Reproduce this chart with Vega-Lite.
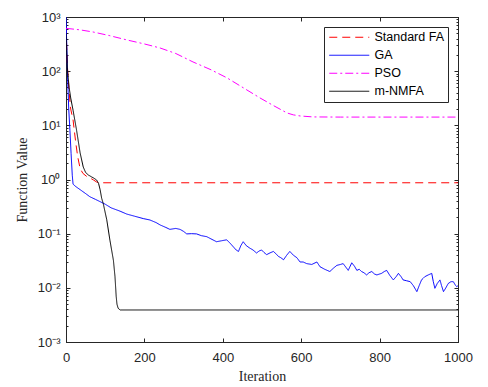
{
  "$schema": "https://vega.github.io/schema/vega-lite/v6.json",
  "width": 392,
  "height": 325,
  "autosize": "none",
  "padding": {"left": 66, "top": 17, "right": 30, "bottom": 45},
  "background": "white",
  "config": {
    "view": {"stroke": "#262626", "strokeWidth": 1},
    "axis": {
      "labelFont": "Liberation Sans", "labelFontSize": 13, "labelColor": "#262626",
      "titleFont": "Liberation Serif", "titleFontSize": 14, "titleFontWeight": "normal", "titleColor": "#262626",
      "domainColor": "#262626", "tickColor": "#262626", "tickWidth": 1, "grid": false
    },
    "legend": {
      "orient": "top-right", "offset": 10, "strokeColor": "#262626", "fillColor": "white",
      "padding": 4, "labelFont": "Liberation Sans", "labelFontSize": 12.5, "labelColor": "#000000",
      "symbolType": "M-1,0H7", "symbolSize": 100, "symbolStrokeWidth": 1, "labelOffset": 34, "rowPadding": 5
    }
  },
  "datasets": {
    "curves": [
      {"iter": 0, "value": 600, "algo": "Standard FA"},
      {"iter": 2, "value": 250, "algo": "Standard FA"},
      {"iter": 4, "value": 110, "algo": "Standard FA"},
      {"iter": 8, "value": 40, "algo": "Standard FA"},
      {"iter": 12, "value": 20, "algo": "Standard FA"},
      {"iter": 18, "value": 12.6, "algo": "Standard FA"},
      {"iter": 25, "value": 4.7, "algo": "Standard FA"},
      {"iter": 30, "value": 2.6, "algo": "Standard FA"},
      {"iter": 36, "value": 1.6, "algo": "Standard FA"},
      {"iter": 43, "value": 1.3, "algo": "Standard FA"},
      {"iter": 52, "value": 1.15, "algo": "Standard FA"},
      {"iter": 61, "value": 1.07, "algo": "Standard FA"},
      {"iter": 70, "value": 0.98, "algo": "Standard FA"},
      {"iter": 78, "value": 0.9, "algo": "Standard FA"},
      {"iter": 85, "value": 0.87, "algo": "Standard FA"},
      {"iter": 1000, "value": 0.87, "algo": "Standard FA"},

      {"iter": 0, "value": 1000, "algo": "GA"},
      {"iter": 2, "value": 300, "algo": "GA"},
      {"iter": 4, "value": 80, "algo": "GA"},
      {"iter": 7, "value": 20, "algo": "GA"},
      {"iter": 10, "value": 8, "algo": "GA"},
      {"iter": 13, "value": 3, "algo": "GA"},
      {"iter": 16, "value": 1.2, "algo": "GA"},
      {"iter": 18, "value": 0.82, "algo": "GA"},
      {"iter": 25, "value": 0.74, "algo": "GA"},
      {"iter": 36, "value": 0.65, "algo": "GA"},
      {"iter": 50, "value": 0.55, "algo": "GA"},
      {"iter": 61, "value": 0.48, "algo": "GA"},
      {"iter": 75, "value": 0.43, "algo": "GA"},
      {"iter": 87, "value": 0.39, "algo": "GA"},
      {"iter": 100, "value": 0.35, "algo": "GA"},
      {"iter": 115, "value": 0.3, "algo": "GA"},
      {"iter": 138, "value": 0.26, "algo": "GA"},
      {"iter": 155, "value": 0.23, "algo": "GA"},
      {"iter": 175, "value": 0.21, "algo": "GA"},
      {"iter": 197, "value": 0.19, "algo": "GA"},
      {"iter": 214, "value": 0.179, "algo": "GA"},
      {"iter": 230, "value": 0.16, "algo": "GA"},
      {"iter": 240, "value": 0.145, "algo": "GA"},
      {"iter": 255, "value": 0.13, "algo": "GA"},
      {"iter": 265, "value": 0.12, "algo": "GA"},
      {"iter": 280, "value": 0.125, "algo": "GA"},
      {"iter": 291, "value": 0.12, "algo": "GA"},
      {"iter": 300, "value": 0.11, "algo": "GA"},
      {"iter": 308, "value": 0.099, "algo": "GA"},
      {"iter": 320, "value": 0.1, "algo": "GA"},
      {"iter": 333, "value": 0.099, "algo": "GA"},
      {"iter": 345, "value": 0.092, "algo": "GA"},
      {"iter": 359, "value": 0.088, "algo": "GA"},
      {"iter": 370, "value": 0.08, "algo": "GA"},
      {"iter": 384, "value": 0.071, "algo": "GA"},
      {"iter": 397, "value": 0.074, "algo": "GA"},
      {"iter": 410, "value": 0.077, "algo": "GA"},
      {"iter": 420, "value": 0.065, "algo": "GA"},
      {"iter": 427, "value": 0.057, "algo": "GA"},
      {"iter": 434, "value": 0.05, "algo": "GA"},
      {"iter": 440, "value": 0.047, "algo": "GA"},
      {"iter": 446, "value": 0.06, "algo": "GA"},
      {"iter": 452, "value": 0.071, "algo": "GA"},
      {"iter": 460, "value": 0.06, "algo": "GA"},
      {"iter": 469, "value": 0.054, "algo": "GA"},
      {"iter": 477, "value": 0.05, "algo": "GA"},
      {"iter": 486, "value": 0.044, "algo": "GA"},
      {"iter": 493, "value": 0.048, "algo": "GA"},
      {"iter": 499, "value": 0.05, "algo": "GA"},
      {"iter": 505, "value": 0.045, "algo": "GA"},
      {"iter": 512, "value": 0.041, "algo": "GA"},
      {"iter": 520, "value": 0.044, "algo": "GA"},
      {"iter": 529, "value": 0.047, "algo": "GA"},
      {"iter": 535, "value": 0.043, "algo": "GA"},
      {"iter": 542, "value": 0.038, "algo": "GA"},
      {"iter": 548, "value": 0.036, "algo": "GA"},
      {"iter": 555, "value": 0.033, "algo": "GA"},
      {"iter": 563, "value": 0.04, "algo": "GA"},
      {"iter": 571, "value": 0.047, "algo": "GA"},
      {"iter": 580, "value": 0.04, "algo": "GA"},
      {"iter": 589, "value": 0.036, "algo": "GA"},
      {"iter": 597, "value": 0.03, "algo": "GA"},
      {"iter": 605, "value": 0.03, "algo": "GA"},
      {"iter": 614, "value": 0.028, "algo": "GA"},
      {"iter": 627, "value": 0.027, "algo": "GA"},
      {"iter": 640, "value": 0.03, "algo": "GA"},
      {"iter": 648, "value": 0.0245, "algo": "GA"},
      {"iter": 660, "value": 0.022, "algo": "GA"},
      {"iter": 673, "value": 0.02, "algo": "GA"},
      {"iter": 682, "value": 0.023, "algo": "GA"},
      {"iter": 691, "value": 0.026, "algo": "GA"},
      {"iter": 700, "value": 0.027, "algo": "GA"},
      {"iter": 707, "value": 0.028, "algo": "GA"},
      {"iter": 714, "value": 0.024, "algo": "GA"},
      {"iter": 720, "value": 0.021, "algo": "GA"},
      {"iter": 729, "value": 0.029, "algo": "GA"},
      {"iter": 736, "value": 0.025, "algo": "GA"},
      {"iter": 742, "value": 0.021, "algo": "GA"},
      {"iter": 748, "value": 0.022, "algo": "GA"},
      {"iter": 754, "value": 0.02, "algo": "GA"},
      {"iter": 760, "value": 0.019, "algo": "GA"},
      {"iter": 767, "value": 0.0173, "algo": "GA"},
      {"iter": 773, "value": 0.019, "algo": "GA"},
      {"iter": 780, "value": 0.02, "algo": "GA"},
      {"iter": 787, "value": 0.018, "algo": "GA"},
      {"iter": 793, "value": 0.0173, "algo": "GA"},
      {"iter": 800, "value": 0.018, "algo": "GA"},
      {"iter": 805, "value": 0.0185, "algo": "GA"},
      {"iter": 812, "value": 0.02, "algo": "GA"},
      {"iter": 818, "value": 0.021, "algo": "GA"},
      {"iter": 826, "value": 0.017, "algo": "GA"},
      {"iter": 835, "value": 0.014, "algo": "GA"},
      {"iter": 842, "value": 0.016, "algo": "GA"},
      {"iter": 848, "value": 0.0185, "algo": "GA"},
      {"iter": 855, "value": 0.016, "algo": "GA"},
      {"iter": 860, "value": 0.014, "algo": "GA"},
      {"iter": 869, "value": 0.0135, "algo": "GA"},
      {"iter": 878, "value": 0.013, "algo": "GA"},
      {"iter": 886, "value": 0.011, "algo": "GA"},
      {"iter": 895, "value": 0.0085, "algo": "GA"},
      {"iter": 901, "value": 0.011, "algo": "GA"},
      {"iter": 907, "value": 0.014, "algo": "GA"},
      {"iter": 915, "value": 0.016, "algo": "GA"},
      {"iter": 924, "value": 0.0173, "algo": "GA"},
      {"iter": 933, "value": 0.0185, "algo": "GA"},
      {"iter": 937, "value": 0.013, "algo": "GA"},
      {"iter": 941, "value": 0.0098, "algo": "GA"},
      {"iter": 947, "value": 0.012, "algo": "GA"},
      {"iter": 954, "value": 0.014, "algo": "GA"},
      {"iter": 958, "value": 0.011, "algo": "GA"},
      {"iter": 963, "value": 0.0085, "algo": "GA"},
      {"iter": 969, "value": 0.01, "algo": "GA"},
      {"iter": 975, "value": 0.012, "algo": "GA"},
      {"iter": 982, "value": 0.013, "algo": "GA"},
      {"iter": 988, "value": 0.013, "algo": "GA"},
      {"iter": 994, "value": 0.011, "algo": "GA"},
      {"iter": 997, "value": 0.0105, "algo": "GA"},
      {"iter": 1000, "value": 0.011, "algo": "GA"},

      {"iter": 0, "value": 618, "algo": "PSO"},
      {"iter": 35, "value": 580, "algo": "PSO"},
      {"iter": 69, "value": 529, "algo": "PSO"},
      {"iter": 110, "value": 455, "algo": "PSO"},
      {"iter": 156, "value": 376, "algo": "PSO"},
      {"iter": 200, "value": 318, "algo": "PSO"},
      {"iter": 240, "value": 268, "algo": "PSO"},
      {"iter": 280, "value": 212, "algo": "PSO"},
      {"iter": 324, "value": 148, "algo": "PSO"},
      {"iter": 370, "value": 106, "algo": "PSO"},
      {"iter": 411, "value": 75, "algo": "PSO"},
      {"iter": 455, "value": 48, "algo": "PSO"},
      {"iter": 495, "value": 32, "algo": "PSO"},
      {"iter": 530, "value": 23, "algo": "PSO"},
      {"iter": 564, "value": 16.9, "algo": "PSO"},
      {"iter": 580, "value": 15.6, "algo": "PSO"},
      {"iter": 597, "value": 14.9, "algo": "PSO"},
      {"iter": 630, "value": 14.3, "algo": "PSO"},
      {"iter": 700, "value": 14.2, "algo": "PSO"},
      {"iter": 1000, "value": 14.2, "algo": "PSO"},

      {"iter": 0, "value": 500, "algo": "m-NMFA"},
      {"iter": 2, "value": 220, "algo": "m-NMFA"},
      {"iter": 4, "value": 100, "algo": "m-NMFA"},
      {"iter": 8, "value": 50, "algo": "m-NMFA"},
      {"iter": 12, "value": 32, "algo": "m-NMFA"},
      {"iter": 18, "value": 19, "algo": "m-NMFA"},
      {"iter": 27, "value": 8.1, "algo": "m-NMFA"},
      {"iter": 36, "value": 3.1, "algo": "m-NMFA"},
      {"iter": 44, "value": 1.7, "algo": "m-NMFA"},
      {"iter": 50, "value": 1.35, "algo": "m-NMFA"},
      {"iter": 57, "value": 1.21, "algo": "m-NMFA"},
      {"iter": 65, "value": 1.12, "algo": "m-NMFA"},
      {"iter": 70, "value": 1.07, "algo": "m-NMFA"},
      {"iter": 78, "value": 0.98, "algo": "m-NMFA"},
      {"iter": 83, "value": 0.85, "algo": "m-NMFA"},
      {"iter": 87, "value": 0.65, "algo": "m-NMFA"},
      {"iter": 91, "value": 0.45, "algo": "m-NMFA"},
      {"iter": 95, "value": 0.36, "algo": "m-NMFA"},
      {"iter": 104, "value": 0.18, "algo": "m-NMFA"},
      {"iter": 112, "value": 0.076, "algo": "m-NMFA"},
      {"iter": 121, "value": 0.032, "algo": "m-NMFA"},
      {"iter": 125, "value": 0.016, "algo": "m-NMFA"},
      {"iter": 128, "value": 0.007, "algo": "m-NMFA"},
      {"iter": 130, "value": 0.005, "algo": "m-NMFA"},
      {"iter": 133, "value": 0.0042, "algo": "m-NMFA"},
      {"iter": 138, "value": 0.0039, "algo": "m-NMFA"},
      {"iter": 1000, "value": 0.0039, "algo": "m-NMFA"}
    ]
  },
  "data": {"name": "curves"},
  "resolve": {"axis": {"x": "independent", "y": "independent"}},
  "layer": [
    {
      "mark": {"type": "line", "strokeWidth": 1, "clip": true},
      "encoding": {
        "x": {
          "field": "iter", "type": "quantitative",
          "scale": {"domain": [0, 1000], "nice": false, "zero": false},
          "axis": {
            "orient": "bottom", "title": "Iteration", "values": [0, 200, 400, 600, 800, 1000], "format": "d",
            "tickSize": -4, "labelPadding": 13, "titlePadding": 5, "labelFlush": false, "labelOverlap": false
          }
        },
        "y": {
          "field": "value", "type": "quantitative",
          "scale": {"type": "log", "domain": [0.001, 1000], "nice": false},
          "axis": {
            "orient": "left", "title": "Function Value",
            "values": [0.001,0.002,0.003,0.004,0.005,0.006,0.007,0.008,0.009,0.01,0.02,0.03,0.04,0.05,0.06,0.07,0.08,0.09,0.1,0.2,0.3,0.4,0.5,0.6,0.7,0.8,0.9,1,2,3,4,5,6,7,8,9,10,20,30,40,50,60,70,80,90,100,200,300,400,500,600,700,800,900,1000],
            "labelExpr": "indexof([0.001,0.01,0.1,1,10,100,1000], datum.value) >= 0 ? ['10⁻³','10⁻²','10⁻¹','10⁰','10¹','10²','10³'][indexof([0.001,0.01,0.1,1,10,100,1000], datum.value)] : ''",
            "tickSize": {"condition": {"test": "indexof([0.001,0.01,0.1,1,10,100,1000], datum.value) >= 0", "value": -4}, "value": -2},
            "labelPadding": 10, "titlePadding": 8, "labelFlush": false, "labelOverlap": false
          }
        },
        "color": {
          "field": "algo", "type": "nominal", "title": null,
          "scale": {"domain": ["Standard FA", "GA", "PSO", "m-NMFA"], "range": ["#ff0000", "#0000ff", "#ff00ff", "#000000"]}
        },
        "strokeDash": {
          "field": "algo", "type": "nominal", "title": null,
          "scale": {"domain": ["Standard FA", "GA", "PSO", "m-NMFA"], "range": [[8, 5], [1, 0], [8, 3, 2, 3], [1, 0]]}
        }
      }
    },
    {
      "mark": {"type": "line", "opacity": 0},
      "encoding": {
        "x": {
          "field": "iter", "type": "quantitative",
          "axis": {"orient": "top", "title": null, "labels": false, "values": [0, 200, 400, 600, 800, 1000], "tickSize": -4}
        },
        "y": {
          "field": "value", "type": "quantitative",
          "axis": {
            "orient": "right", "title": null, "labels": false,
            "values": [0.001,0.002,0.003,0.004,0.005,0.006,0.007,0.008,0.009,0.01,0.02,0.03,0.04,0.05,0.06,0.07,0.08,0.09,0.1,0.2,0.3,0.4,0.5,0.6,0.7,0.8,0.9,1,2,3,4,5,6,7,8,9,10,20,30,40,50,60,70,80,90,100,200,300,400,500,600,700,800,900,1000],
            "tickSize": {"condition": {"test": "indexof([0.001,0.01,0.1,1,10,100,1000], datum.value) >= 0", "value": -4}, "value": -2}
          }
        },
        "detail": {"field": "algo"}
      }
    }
  ]
}
